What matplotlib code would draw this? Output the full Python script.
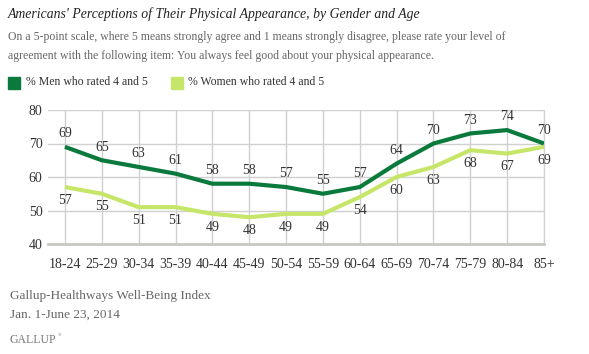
import matplotlib
matplotlib.use("Agg")
import matplotlib.pyplot as plt
from matplotlib.patches import Rectangle

categories = ["18-24", "25-29", "30-34", "35-39", "40-44", "45-49", "50-54",
              "55-59", "60-64", "65-69", "70-74", "75-79", "80-84", "85+"]
men = [69, 65, 63, 61, 58, 58, 57, 55, 57, 64, 70, 73, 74, 70]
women = [57, 55, 51, 51, 49, 48, 49, 49, 54, 60, 63, 68, 67, 69]
yticks = [40, 50, 60, 70, 80]

MEN_C = "#0a7a3c"
WOMEN_C = "#c6e66a"
TXT = "#333333"
GRAY = "#666666"
FONT = "Liberation Serif"

W, H = 589, 354
fig = plt.figure(figsize=(W / 100, H / 100), dpi=100)

def fx(px):
    return px / W

def fy(py):
    return 1 - py / H

ax_l, ax_r, ax_t, ax_b = 48, 544, 110, 244
ax = fig.add_axes([fx(ax_l), fy(ax_b), fx(ax_r - ax_l), (ax_b - ax_t) / H])
x = list(range(len(categories)))
ax.set_xlim(-0.46, len(categories) - 1)
ax.set_ylim(40, 80)
ax.set_yticks(yticks)
ax.set_xticks(x)
ax.set_xticklabels(categories)
ax.grid(True, color="#d0d0d0", linewidth=1)
ax.set_axisbelow(True)
for s in ["top", "left"]:
    ax.spines[s].set_visible(False)
ax.spines["right"].set_color("#d0d0d0")
ax.spines["bottom"].set_color("#c8c8c0")
ax.spines["bottom"].set_linewidth(2)
ax.tick_params(length=0, labelsize=10, labelcolor=TXT, pad=4)
ax.tick_params(axis="x", pad=10)
for lab in ax.get_xticklabels() + ax.get_yticklabels():
    lab.set_fontfamily(FONT)

ax.plot(x, women, color=WOMEN_C, linewidth=3, solid_capstyle="butt", zorder=3)
ax.plot(x, men, color=MEN_C, linewidth=3, solid_capstyle="butt", zorder=4)

for i, (m, w) in enumerate(zip(men, women)):
    ax.annotate(str(m), (i, m), xytext=(0, 9.5), textcoords="offset points",
                ha="center", va="center", fontsize=10, color=TXT, fontfamily=FONT)
    ax.annotate(str(w), (i, w), xytext=(0, -9.5), textcoords="offset points",
                ha="center", va="center", fontsize=10, color=TXT, fontfamily=FONT)

fig.text(fx(8), fy(14), "Americans' Perceptions of Their Physical Appearance, by Gender and Age",
         fontsize=9.9, style="italic", color="#222222", fontfamily=FONT, va="center")
fig.text(fx(8), fy(37), "On a 5-point scale, where 5 means strongly agree and 1 means strongly disagree, please rate your level of",
         fontsize=8.5, color=GRAY, fontfamily=FONT, va="center")
fig.text(fx(8), fy(56), "agreement with the following item: You always feel good about your physical appearance.",
         fontsize=8.5, color=GRAY, fontfamily=FONT, va="center")

fig.patches.append(Rectangle((fx(8), fy(89)), fx(12), 12 / H, transform=fig.transFigure,
                             color=MEN_C, figure=fig))
fig.text(fx(26), fy(82), "% Men who rated 4 and 5", fontsize=8.5, color=TXT,
         fontfamily=FONT, va="center")
fig.patches.append(Rectangle((fx(171), fy(89)), fx(12), 12 / H, transform=fig.transFigure,
                             color=WOMEN_C, figure=fig))
fig.text(fx(188), fy(82), "% Women who rated 4 and 5", fontsize=8.5, color=TXT,
         fontfamily=FONT, va="center")

fig.text(fx(10), fy(296), "Gallup-Healthways Well-Being Index", fontsize=9.5, color=GRAY,
         fontfamily=FONT, va="center")
fig.text(fx(10), fy(315), "Jan. 1-June 23, 2014", fontsize=9.5, color=GRAY,
         fontfamily=FONT, va="center")
fig.text(fx(10), fy(340), "GALLUP", fontsize=8.5, color="#777777", fontfamily=FONT, va="center")
fig.text(fx(58), fy(335), "\u00ae", fontsize=3.5, color="#777777", fontfamily=FONT, va="center")

fig.savefig("out.png", dpi=100, facecolor="white")
